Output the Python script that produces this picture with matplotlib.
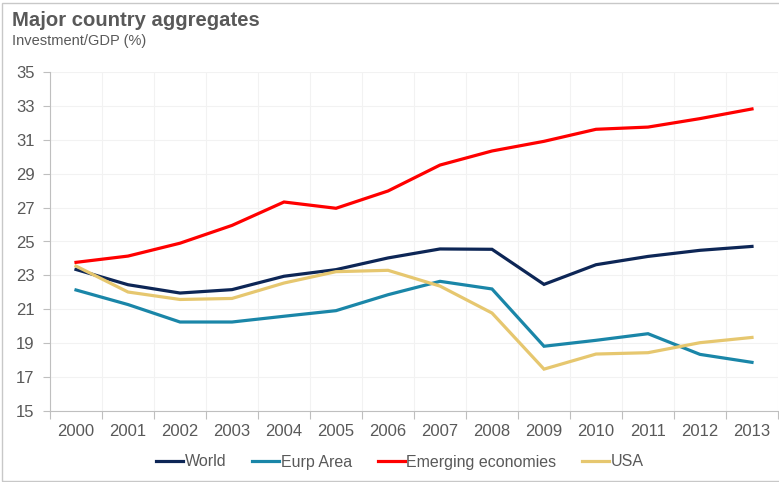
import matplotlib.pyplot as plt
import numpy as np
from matplotlib.patches import Rectangle

plt.rcParams['font.family'] = ['Liberation Sans', 'DejaVu Sans']

years = ['2000', '2001', '2002', '2003', '2004', '2005', '2006',
         '2007', '2008', '2009', '2010', '2011', '2012', '2013']
world = [23.35, 22.45, 21.96, 22.16, 22.95, 23.34, 24.03,
         24.56, 24.54, 22.47, 23.63, 24.12, 24.48, 24.71]
eurp_area = [22.14, 21.28, 20.25, 20.25, 20.59, 20.92, 21.86,
             22.65, 22.20, 18.82, 19.17, 19.56, 18.34, 17.87]
emerging = [23.77, 24.14, 24.90, 25.95, 27.33, 26.96, 27.98,
            29.51, 30.34, 30.91, 31.62, 31.75, 32.25, 32.82]
usa = [23.55, 22.02, 21.58, 21.64, 22.55, 23.22, 23.30,
       22.37, 20.78, 17.47, 18.36, 18.44, 19.03, 19.34]

series = [
    ('World', world, '#0d2656'),
    ('Eurp Area', eurp_area, '#1a86a8'),
    ('Emerging economies', emerging, '#ff0000'),
    ('USA', usa, '#e6c76f'),
]

text_grey = '#595959'
fig = plt.figure(figsize=(7.79, 4.82), dpi=100)
ax = fig.add_axes([50 / 779, 1 - 411 / 482, 728 / 779, 339 / 482])

x = np.arange(len(years))
for name, vals, color in series:
    ax.plot(x, vals, color=color, lw=2.3, label=name, solid_joinstyle='miter')

ax.set_xlim(-0.5, len(years) - 0.5)
ax.set_ylim(15, 35)
ax.set_yticks(np.arange(15, 36, 2))
ax.set_xticks(np.arange(-0.5, len(years), 1))
ax.set_xticklabels([])
ax.set_xticks(x, minor=True)
ax.set_xticklabels(years, minor=True)
ax.tick_params(axis='x', which='major', length=6, color='#bfbfbf', direction='out')
ax.tick_params(axis='x', which='minor', length=0, pad=9, labelsize=12, labelcolor=text_grey)
ax.tick_params(axis='y', length=5, color='#bfbfbf', pad=6, labelsize=12, labelcolor=text_grey)

ax.grid(True, which='major', color='#f2f2f2', lw=0.8)
ax.set_axisbelow(True)
for side in ['top', 'right']:
    ax.spines[side].set_visible(False)
for side in ['left', 'bottom']:
    ax.spines[side].set_color('#bfbfbf')

fig.text(12 / 779, 1 - 20 / 482, 'Major country aggregates', fontsize=14.6,
         fontweight='bold', color=text_grey, va='center')
fig.text(12 / 779, 1 - 41 / 482, 'Investment/GDP (%)', fontsize=10.5,
         color=text_grey, va='center')

leg = fig.legend(loc='center', bbox_to_anchor=(400 / 779, 1 - 462 / 482), ncol=4,
                 frameon=False, fontsize=11.5, handlelength=1.7, handletextpad=0.1,
                 columnspacing=1.6)
for t in leg.get_texts():
    t.set_color(text_grey)

# thin frame around the whole chart
fig.patches.append(Rectangle((2 / 779, 1 / 482), 1, 1 - 4 / 482, transform=fig.transFigure,
                             fill=False, ec='#c8c8c8', lw=1))

fig.savefig('out.png', dpi=100)
